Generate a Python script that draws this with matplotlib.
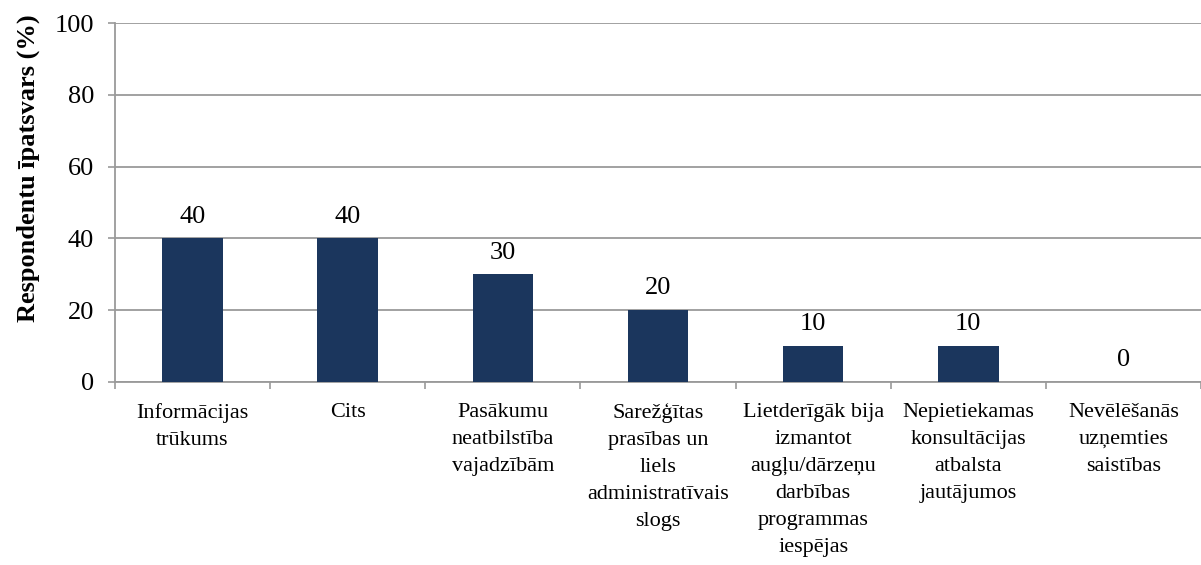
import matplotlib
matplotlib.use("Agg")
import matplotlib.pyplot as plt
import numpy as np

categories = [
    "Informācijas\ntrūkums",
    "Cits",
    "Pasākumu\nneatbilstība\nvajadzībām",
    "Sarežģītas\nprasības un\nliels\nadministratīvais\nslogs",
    "Lietderīgāk bija\nizmantot\naugļu/dārzeņu\ndarbības\nprogrammas\niespējas",
    "Nepietiekamas\nkonsultācijas\natbalsta\njautājumos",
    "Nevēlēšanās\nuzņemties\nsaistības",
]
values = [40, 40, 30, 20, 10, 10, 0]
yticks = [0, 20, 40, 60, 80, 100]
ylabel = "Respondentu īpatsvars (%)"

plt.rcParams['font.family'] = ['Liberation Serif', 'DejaVu Serif']

fig = plt.figure(figsize=(12.01, 5.65), dpi=100)
ax = fig.add_axes([115/1201, 1-382/565, 1-115/1201, (382-23)/565])

x = np.arange(len(categories))
ax.bar(x, values, width=0.39, color='#1b365d', zorder=3)
for xi, v in zip(x, values):
    ax.text(xi, v + 3.0, f"{v}", ha='center', va='bottom', fontsize=19, color='#000000')

ax.set_xlim(-0.5, len(categories) - 0.5)
ax.set_ylim(0, 100)
ax.set_yticks(yticks)
ax.yaxis.grid(True, color='#9a9a9a', linewidth=1.3, zorder=0)
ax.set_axisbelow(True)

ax.set_xticks(x)
ax.set_xticklabels(categories, fontsize=16, linespacing=1.58)
ax.set_xticks(np.arange(-0.5, len(categories) + 0.5, 1), minor=True)
ax.tick_params(axis='x', which='major', length=0, pad=15)
ax.tick_params(axis='x', which='minor', length=5, width=1.2, color='#9a9a9a', direction='out')
ax.tick_params(axis='y', length=5, width=1.2, color='#9a9a9a', pad=10, labelsize=19)

for s in ['top', 'right']:
    ax.spines[s].set_visible(False)
for s in ['left', 'bottom']:
    ax.spines[s].set_color('#9a9a9a')
    ax.spines[s].set_linewidth(1.3)

ax.set_ylabel(ylabel, fontsize=19, fontweight='bold')
ax.yaxis.set_label_coords(-0.069, 0.595)

fig.savefig("out.png", dpi=100)
